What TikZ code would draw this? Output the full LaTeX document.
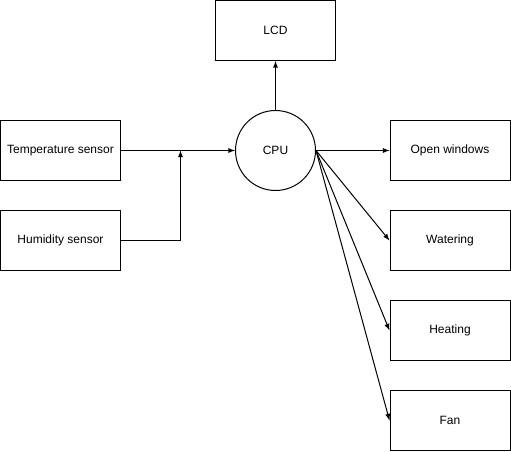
\documentclass[tikz,border=0pt]{standalone}
\usepackage{fontspec}
\setmainfont{Liberation Sans}
\usepackage{tikz}
\definecolor{white}{rgb}{1.0, 1.0, 1.0}
\definecolor{black}{rgb}{0.0, 0.0, 0.0}
\pgfdeclarelayer{edgelayer}
\pgfdeclarelayer{nodelayer}
\pgfsetlayers{edgelayer,nodelayer,main}
\tikzstyle{block}=[rectangle,fill=white,draw=black,line width=0.75pt,minimum width=90pt,minimum height=45pt,inner sep=0pt,font=\fontsize{9pt}{11pt}\selectfont]
\tikzstyle{unit}=[circle,fill=white,draw=black,line width=0.75pt,minimum size=60pt,inner sep=0pt,font=\fontsize{9pt}{11pt}\selectfont]
\tikzstyle{wire}=[line width=0.75pt]

\begin{document}
\begin{tikzpicture}[x=0.75pt,y=-0.75pt]
        \useasboundingbox (0, 0) rectangle (511, 452);
        \begin{pgfonlayer}{nodelayer}
            \node [style = block] (temp) at (60.5, 150.5) {Temperature sensor};
            \node [style = block] (hum) at (60.5, 240.5) {Humidity sensor};
            \node [style = unit] (cpu) at (275.5, 150.5) {CPU};
            \node [style = block] (lcd) at (275.5, 30.5) {LCD};
            \node [style = block] (win) at (450, 150.5) {Open windows};
            \node [style = block] (water) at (450, 240.5) {Watering};
            \node [style = block] (heat) at (450, 330.5) {Heating};
            \node [style = block] (fan) at (450, 420.5) {Fan};
            \coordinate (join) at (180.5, 150.5);
        \end{pgfonlayer}

        \begin{pgfonlayer}{edgelayer}
            \draw [-latex, style = wire] (temp) to (cpu);
            \draw [-latex, style = wire] (hum.east) -| (join);
            \draw [-latex, style = wire] (cpu) to (lcd);
            \draw [-latex, style = wire] (cpu.east) to (win.west);
            \draw [-latex, style = wire] (cpu.east) to (water.west);
            \draw [-latex, style = wire] (cpu.east) to (heat.west);
            \draw [-latex, style = wire] (cpu.east) to (fan.west);
        \end{pgfonlayer}
    \end{tikzpicture}
\end{document}
